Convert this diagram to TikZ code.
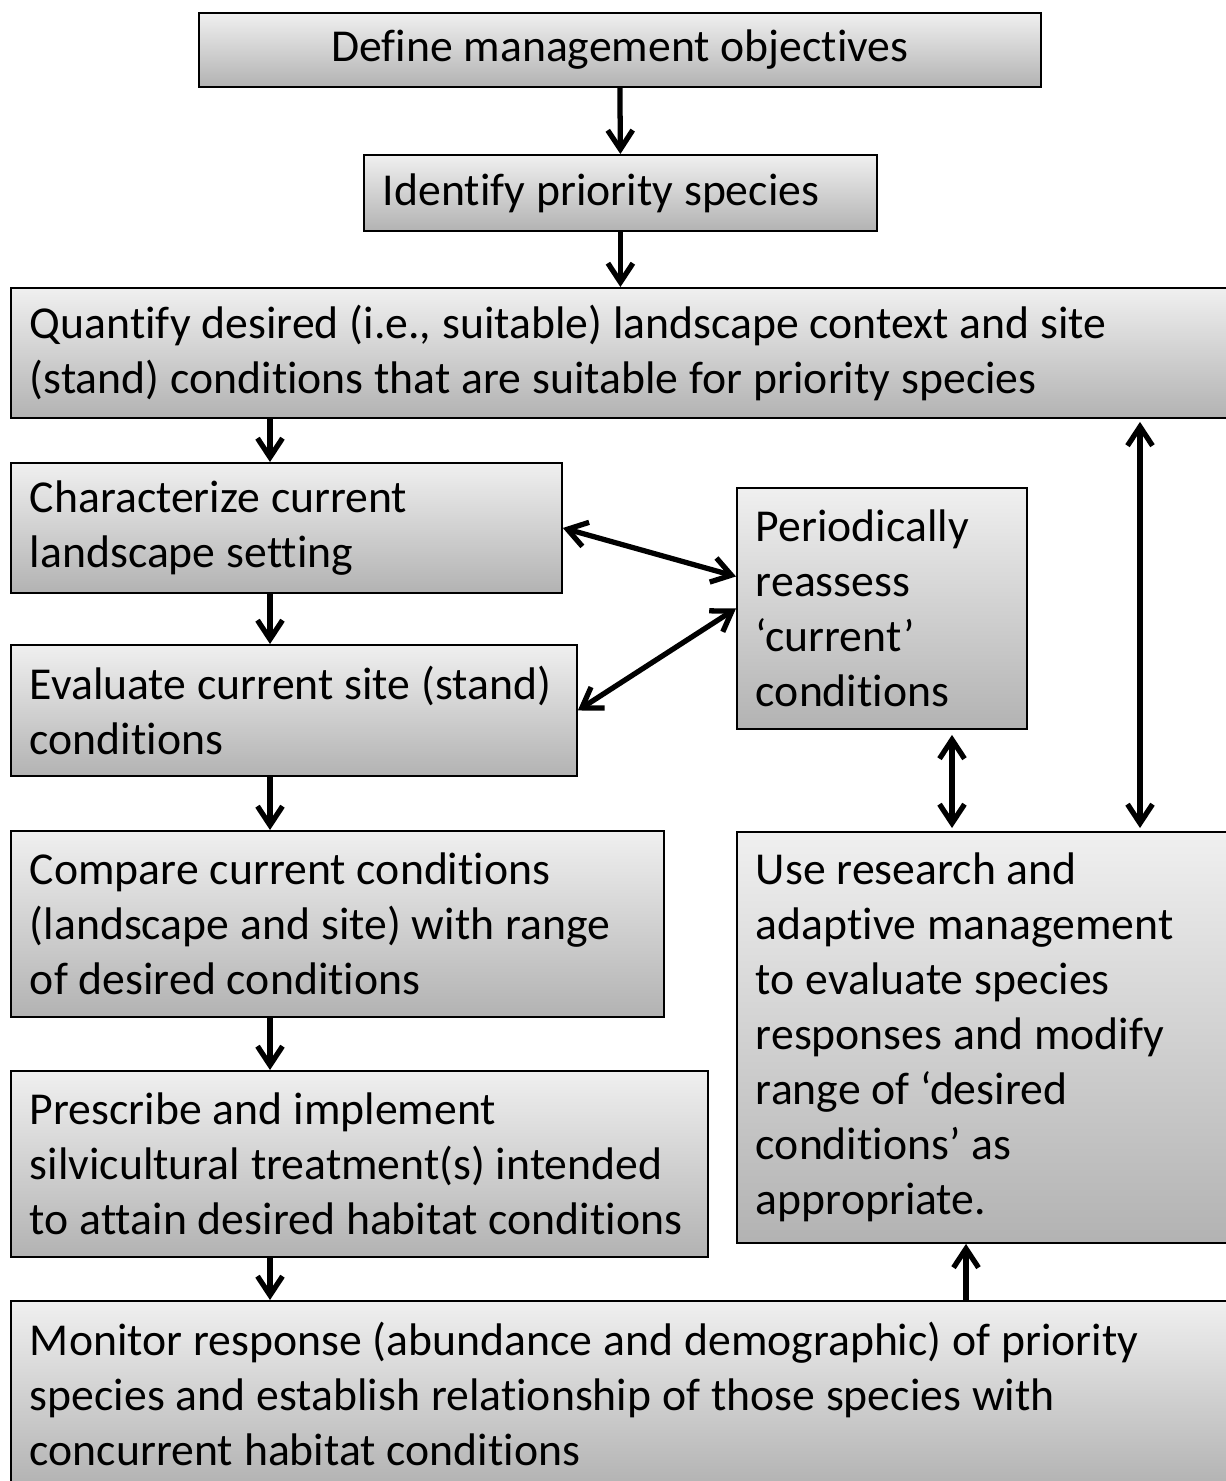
\documentclass[tikz,border=0pt]{standalone}
\usepackage{fontspec}
\setmainfont{Carlito}[Ligatures=NoCommon]
\usetikzlibrary{calc,positioning,arrows.meta}

\tikzset{
  stage/.style={draw=black, line width=1.1pt, top color=black!6, bottom color=black!30,
    anchor=north west, align=left, inner xsep=0.38cm, inner ysep=0pt,
    font=\fontsize{26}{31.3}\selectfont,
    execute at begin node={\spaceskip=0.24em\relax\hyphenpenalty=10000\relax}},
  flow/.style={line width=3pt, >={Straight Barb[length=0.38cm,width=0.5cm,line width=3pt]}}
}

\begin{document}
\begin{tikzpicture}[x=0.02cm,y=-0.02cm]
    \useasboundingbox (0,0) rectangle (1225,1481);

    % Main column of steps
    \node[stage, align=center, text width=16.08cm, minimum height=1.48cm] (define) at (198,12) {Define management objectives};
    \node[stage, text width=9.5cm, minimum height=1.52cm] (identify) at (363,154) {Identify priority species};
    \node[stage, text width=24cm, minimum height=2.6cm] (quantify) at (10,287)
        {Quantify desired (i.e., suitable) landscape context and site\\(stand) conditions that are suitable for priority species};
    \node[stage, text width=10.26cm, minimum height=2.6cm] (character) at (10,462)
        {Characterize current\\landscape setting};
    \node[stage, text width=10.56cm, minimum height=2.62cm] (evaluate) at (10,644)
        {Evaluate current site (stand)\\conditions};
    \node[stage, text width=12.3cm, minimum height=3.72cm] (compare) at (10,830)
        {Compare current conditions\\(landscape and site) with range\\of desired conditions};
    \node[stage, text width=13.18cm, minimum height=3.72cm] (prescribe) at (10,1070)
        {Prescribe and implement\\silvicultural treatment(s) intended\\to attain desired habitat conditions};
    \node[stage, text width=24cm, minimum height=3.72cm] (monitor) at (10,1300)
        {Monitor response (abundance and demographic) of priority\\species and establish relationship of those species with\\concurrent habitat conditions};

    % Feedback boxes on the right
    \node[stage, text width=5.04cm, minimum height=4.82cm] (periodic) at (736,487)
        {Periodically\\reassess\\`current'\\conditions};
    \node[stage, text width=9.24cm, minimum height=8.22cm] (research) at (736,831)
        {Use research and\\adaptive management\\to evaluate species\\responses and modify\\range of `desired\\conditions' as\\appropriate.};

    % Arrow columns
    \coordinate (spine) at (270,0);
    \coordinate (link) at (952,0);
    \coordinate (loop) at (1140,0);
    \coordinate (back) at (966,0);

    \draw[flow,->] (define.south) -- (identify.north);
    \draw[flow,->] (identify.south) -- (quantify.north -| identify.south);
    \draw[flow,->] (quantify.south -| spine) -- (character.north -| spine);
    \draw[flow,->] (character.south -| spine) -- (evaluate.north -| spine);
    \draw[flow,->] (evaluate.south -| spine) -- (compare.north -| spine);
    \draw[flow,->] (compare.south -| spine) -- (prescribe.north -| spine);
    \draw[flow,->] (prescribe.south -| spine) -- (monitor.north -| spine);
    \draw[flow,->] (monitor.north -| back) -- (research.south -| back);

    % Two-way links
    \draw[flow,<->] (character.east) -- ([yshift=0.64cm]periodic.west);
    \draw[flow,<->] (evaluate.east) -- (periodic.west);
    \draw[flow,<->] ([yshift=-0.1cm]periodic.south -| link) -- ([yshift=0.06cm]research.north -| link);
    \draw[flow,<->] ([yshift=-0.06cm]quantify.south -| loop) -- ([yshift=0.06cm]research.north -| loop);
\end{tikzpicture}
\end{document}
